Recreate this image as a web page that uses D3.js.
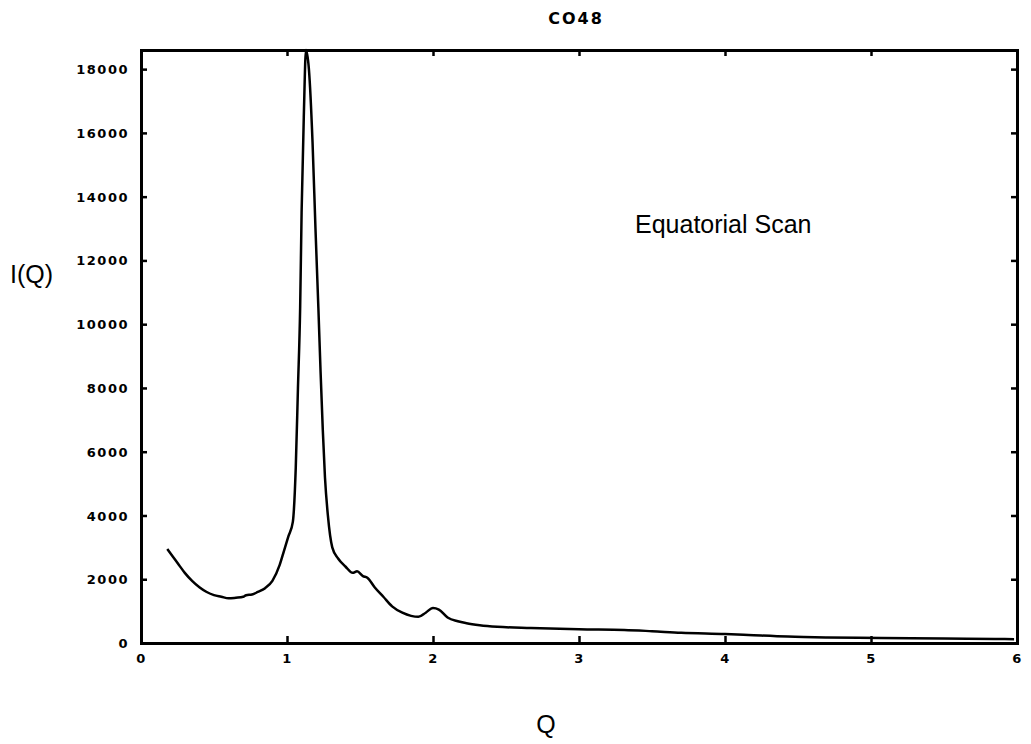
<!DOCTYPE html>
<html>
<head>
<meta charset="utf-8">
<script src="https://cdn.jsdelivr.net/npm/d3@7"></script>
<style>
  html, body { margin: 0; padding: 0; background: #fff; }
  svg { display: block; }
</style>
</head>
<body>
<svg id="chart" width="1031" height="744"></svg>
<script>
// ---- data ----
const qValues = [0.18, 0.22, 0.26, 0.30, 0.35, 0.40, 0.45, 0.50, 0.55, 0.60,
  0.65, 0.70, 0.72, 0.76, 0.80, 0.85, 0.90, 0.95, 0.98, 1.01,
  1.04, 1.06, 1.075, 1.09, 1.10, 1.115, 1.13, 1.15, 1.175, 1.195,
  1.215, 1.23, 1.245, 1.26, 1.28, 1.31, 1.35, 1.40, 1.45, 1.48,
  1.52, 1.55, 1.60, 1.66, 1.72, 1.79, 1.85, 1.90, 1.95, 2.00,
  2.04, 2.10, 2.17, 2.23, 2.32, 2.44, 2.67, 3.00, 3.31, 3.50,
  3.70, 4.00, 4.16, 4.43, 4.70, 5.07, 5.50, 5.85, 5.98];
const intensity = [2950, 2700, 2450, 2200, 1950, 1750, 1600, 1500, 1450, 1400,
  1420, 1450, 1500, 1520, 1600, 1720, 1950, 2450, 2900, 3350,
  3800, 5500, 8000, 10500, 13500, 16500, 18600, 18000, 15700, 13000,
  10500, 8500, 6700, 5200, 4000, 3000, 2650, 2400, 2200, 2250,
  2100, 2050, 1750, 1450, 1150, 950, 850, 820, 950, 1100,
  1050, 800, 680, 620, 560, 510, 470, 430, 410, 370,
  320, 280, 250, 200, 175, 160, 140, 125, 120];
const xTicks = [0, 1, 2, 3, 4, 5, 6];
const yTicks = [0, 2000, 4000, 6000, 8000, 10000, 12000, 14000, 16000, 18000];
const titleText = "CO48";
const xLabel = "Q";
const yLabel = "I(Q)";
const annotation = "Equatorial Scan";

// ---- layout ----
const svg = d3.select("#chart");
const mLeft = 141, mRight = 1017, mTop = 50, mBottom = 643;
const x = d3.scaleLinear().domain([0, 6]).range([mLeft, mRight]);
const y = d3.scaleLinear().domain([0, 18600]).range([mBottom, mTop]);

const data = qValues.map((q, i) => ({ q, v: intensity[i] }));

const tickFont = "'DejaVu Sans', sans-serif";

// curve
svg.append("path")
  .datum(data)
  .attr("fill", "none")
  .attr("stroke", "#000")
  .attr("stroke-width", 2.5)
  .attr("stroke-linejoin", "round")
  .attr("d", d3.line().x(d => x(d.q)).y(d => y(d.v)).curve(d3.curveMonotoneX));

// axes (ticks inward on all sides)
const gB = svg.append("g").attr("transform", `translate(0,${mBottom})`)
  .call(d3.axisBottom(x).tickValues(xTicks).tickSize(-7).tickPadding(13).tickFormat(d3.format("d")));
const gT = svg.append("g").attr("transform", `translate(0,${mTop})`)
  .call(d3.axisTop(x).tickValues(xTicks).tickSize(-6).tickFormat(""));
const gL = svg.append("g").attr("transform", `translate(${mLeft},0)`)
  .call(d3.axisLeft(y).tickValues(yTicks).tickSize(-6).tickPadding(12).tickFormat(d3.format("d")));
const gR = svg.append("g").attr("transform", `translate(${mRight},0)`)
  .call(d3.axisRight(y).tickValues(yTicks).tickSize(-6).tickFormat(""));

[gB, gT, gL, gR].forEach(g => {
  g.select(".domain").attr("stroke", "#000").attr("stroke-width", 3);
  g.selectAll(".tick line").attr("stroke", "#000").attr("stroke-width", 2.5);
  g.selectAll(".tick text")
    .attr("fill", "#000")
    .attr("font-family", tickFont)
    .attr("font-weight", "bold")
    .attr("font-size", 13)
    .attr("letter-spacing", "1.5px");
});
gL.selectAll(".tick text").attr("dy", "0.35em");
gB.selectAll(".tick text").attr("dy", "0.5em");

// title
svg.append("text")
  .attr("x", 576).attr("y", 24)
  .attr("text-anchor", "middle")
  .attr("font-family", tickFont)
  .attr("font-weight", "bold")
  .attr("font-size", 16)
  .attr("letter-spacing", "2px")
  .text(titleText);

// axis labels
svg.append("text")
  .attr("x", 10).attr("y", 283)
  .attr("font-family", "'Liberation Sans', Arial, sans-serif")
  .attr("font-size", 25)
  .text(yLabel);
svg.append("text")
  .attr("x", 546).attr("y", 733)
  .attr("text-anchor", "middle")
  .attr("font-family", "'Liberation Sans', Arial, sans-serif")
  .attr("font-size", 25)
  .text(xLabel);

// annotation
svg.append("text")
  .attr("x", 635).attr("y", 233)
  .attr("font-family", "'Liberation Sans', Arial, sans-serif")
  .attr("font-size", 25)
  .text(annotation);
</script>
</body>
</html>
